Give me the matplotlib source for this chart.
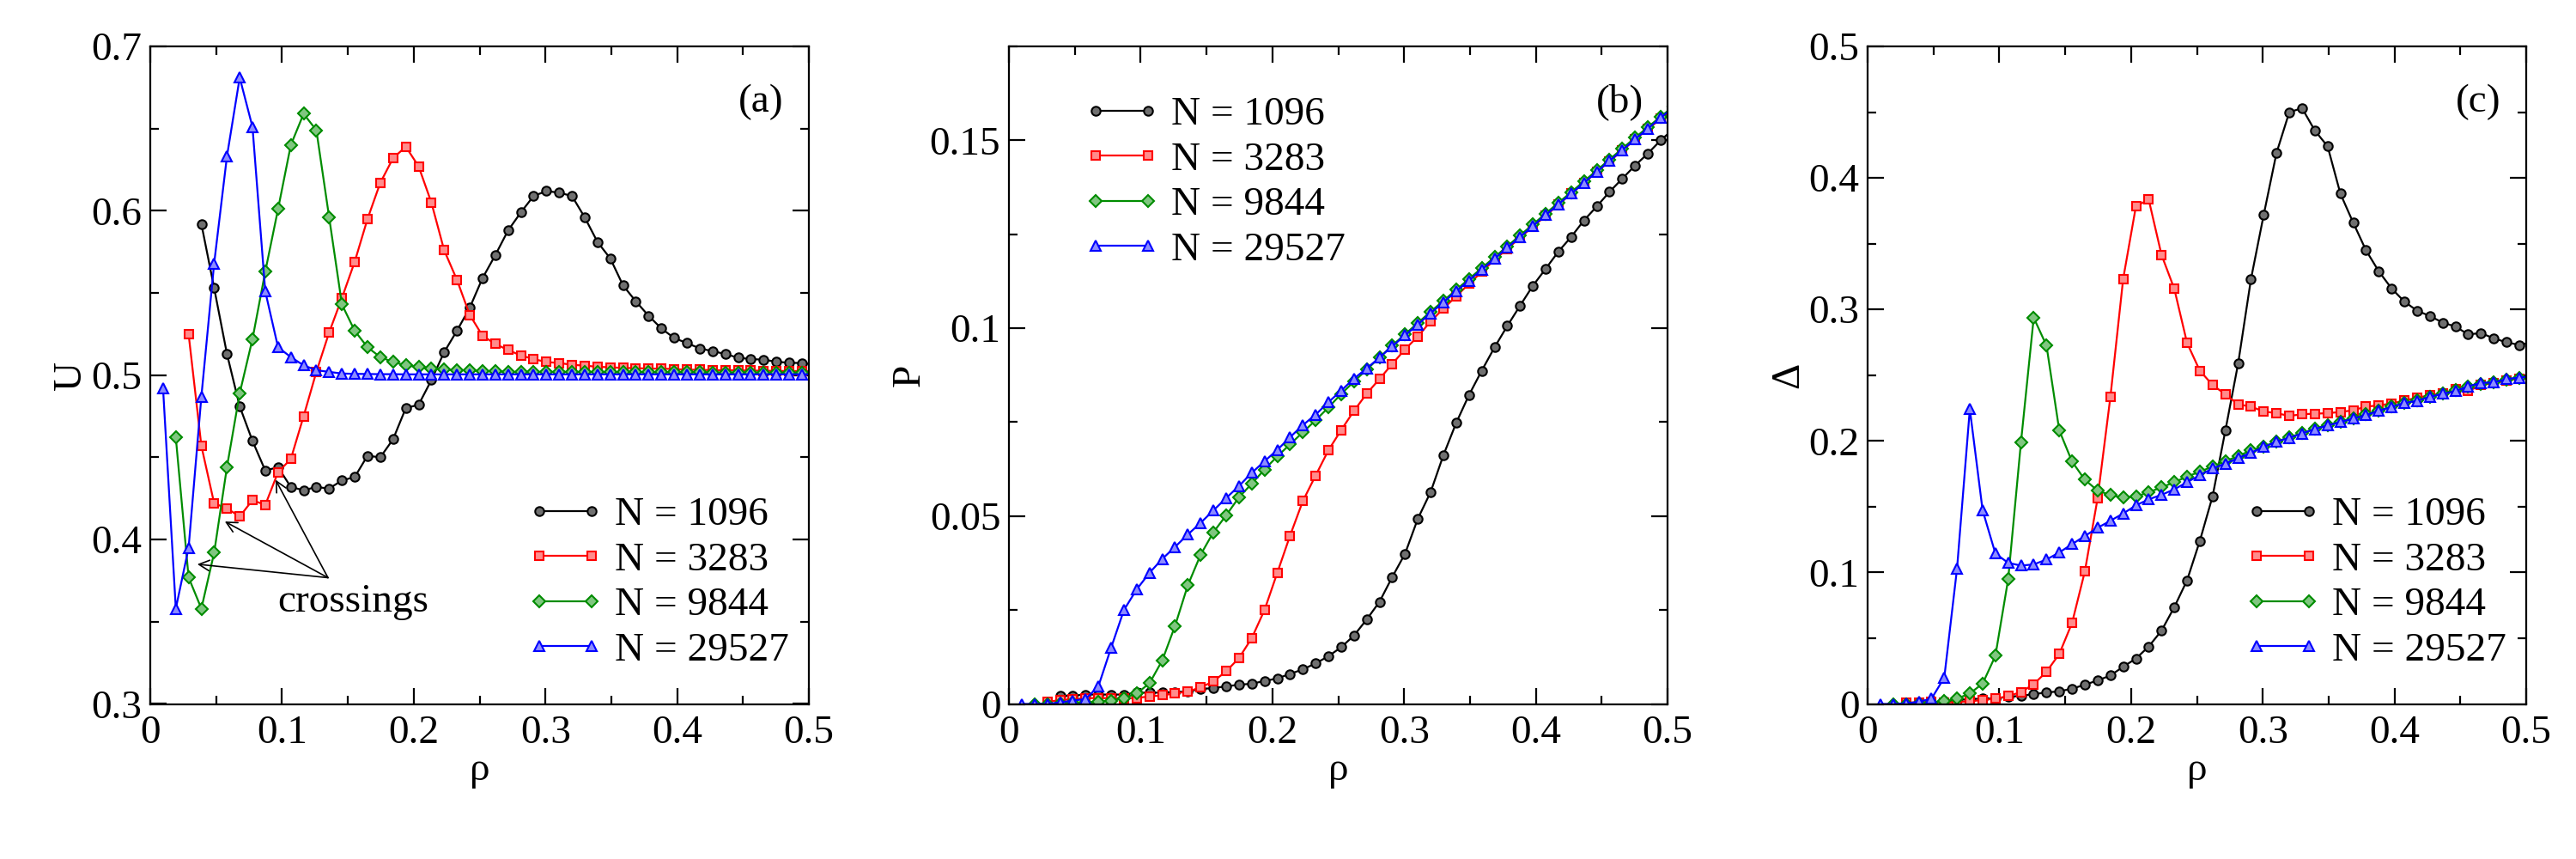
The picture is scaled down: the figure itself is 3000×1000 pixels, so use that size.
import matplotlib
matplotlib.use("Agg")
import matplotlib.pyplot as plt
from matplotlib.ticker import MultipleLocator, FuncFormatter

# ---------------- data ----------------
RHO_STEP = 0.0097
rho_grid = [round(k * RHO_STEP, 4) for k in range(1, 53)]   # k = 1..52

sizes = ["1096", "3283", "9844", "29527"]
first_k = {"1096": 4, "3283": 3, "9844": 2, "29527": 1}

# Panel (a): cumulant U
U_1096 = [0.592, 0.553, 0.513, 0.481, 0.460, 0.442, 0.444, 0.432, 0.430, 0.432,
          0.431, 0.436, 0.438, 0.451, 0.450, 0.461, 0.480, 0.482, 0.497, 0.514,
          0.527, 0.541, 0.559, 0.573, 0.588, 0.599, 0.609, 0.612, 0.611, 0.609,
          0.596, 0.581, 0.571, 0.5546, 0.5449, 0.5361, 0.5284, 0.5226, 0.5195, 0.5163,
          0.5146, 0.5129, 0.5106, 0.5098, 0.5094, 0.5082, 0.5075, 0.5074, 0.5065]
U_3283 = [0.525, 0.457, 0.422, 0.419, 0.414, 0.424, 0.421, 0.441, 0.449, 0.475,
          0.502, 0.526, 0.547, 0.569, 0.595, 0.617, 0.632, 0.639, 0.627, 0.605,
          0.576, 0.558, 0.5367, 0.524, 0.519, 0.5153, 0.512, 0.5098, 0.508, 0.5074,
          0.5063, 0.5058, 0.5051, 0.5048, 0.5044, 0.5043, 0.504, 0.504, 0.5037, 0.5033,
          0.5033, 0.503, 0.503, 0.503, 0.5028, 0.5027, 0.5026, 0.5025, 0.5025, 0.5025]
U_9844 = [0.462, 0.377, 0.358, 0.392, 0.444, 0.489, 0.522, 0.563, 0.601, 0.640,
          0.659, 0.649, 0.596, 0.543, 0.527, 0.517, 0.511, 0.508, 0.506, 0.505,
          0.504, 0.5035, 0.503, 0.503, 0.5025, 0.5025, 0.502, 0.502, 0.502, 0.502,
          0.502, 0.502, 0.502, 0.502, 0.5018, 0.5018, 0.5018, 0.5018, 0.5017, 0.5017,
          0.5017, 0.5017, 0.5016, 0.5016, 0.5016, 0.5016, 0.5015, 0.5015, 0.5015, 0.5015,
          0.5015]
U_29527 = [0.492, 0.358, 0.395, 0.487, 0.568, 0.633, 0.681, 0.651, 0.551, 0.517,
           0.511, 0.506, 0.503, 0.502, 0.501, 0.5008, 0.5007, 0.5006, 0.5006, 0.5005,
           0.5005, 0.5005, 0.5005, 0.5005, 0.5005, 0.5005, 0.5005, 0.5005, 0.5005, 0.5005,
           0.5005, 0.5005, 0.5005, 0.5005, 0.5005, 0.5005, 0.5005, 0.5005, 0.5005, 0.5005,
           0.5005, 0.5005, 0.5005, 0.5005, 0.5005, 0.5005, 0.5005, 0.5005, 0.5005, 0.5005,
           0.5005, 0.5005]

# Panel (b): order parameter P
P_1096 = [0.0022, 0.0022, 0.0025, 0.0025, 0.0025, 0.0025, 0.0030, 0.0030, 0.0030, 0.0032,
          0.0033, 0.0040, 0.0042, 0.0047, 0.0051, 0.0054, 0.0061, 0.0068, 0.0080, 0.0092,
          0.0108, 0.0127, 0.0151, 0.0182, 0.0225, 0.0272, 0.0338, 0.0400, 0.0493, 0.0564,
          0.0662, 0.0748, 0.0822, 0.0887, 0.0949, 0.1006, 0.1060, 0.1113, 0.1158, 0.1204,
          0.1243, 0.1287, 0.1324, 0.1363, 0.1398, 0.1433, 0.1465, 0.1500, 0.1530]
P_3283 = [0.0006, 0.0010, 0.0013, 0.0015, 0.0016, 0.0015, 0.0015, 0.0016, 0.0020, 0.0023,
          0.0028, 0.0033, 0.0044, 0.0060, 0.0087, 0.0122, 0.0175, 0.0250, 0.0349, 0.0448,
          0.0540, 0.0608, 0.0675, 0.0729, 0.0780, 0.0826, 0.0865, 0.0905, 0.0944, 0.0978,
          0.1018, 0.1052, 0.1085, 0.1118, 0.1150, 0.1182, 0.1211, 0.1241, 0.1270, 0.1299,
          0.1329, 0.1358, 0.1387, 0.1416, 0.1444, 0.1473, 0.1502, 0.1530, 0.1557, 0.1585]
P_9844 = [0.0000, 0.0000, 0.0001, 0.0003, 0.0004, 0.0006, 0.0009, 0.0015, 0.0028, 0.0055,
          0.0116, 0.0208, 0.0316, 0.0397, 0.0457, 0.0502, 0.0550, 0.0586, 0.0624, 0.0659,
          0.0691, 0.0723, 0.0755, 0.0789, 0.0825, 0.0858, 0.0890, 0.0922, 0.0954, 0.0984,
          0.1014, 0.1044, 0.1073, 0.1102, 0.1131, 0.1160, 0.1189, 0.1218, 0.1247, 0.1276,
          0.1305, 0.1334, 0.1362, 0.1391, 0.1420, 0.1449, 0.1478, 0.1507, 0.1535, 0.1563,
          0.1590]
P_29527 = [0.0000, 0.0000, 0.0000, 0.0004, 0.0009, 0.0013, 0.0047, 0.0150, 0.0250, 0.0305,
           0.0349, 0.0386, 0.0418, 0.0451, 0.0482, 0.0515, 0.0548, 0.0580, 0.0615, 0.0646,
           0.0676, 0.0710, 0.0742, 0.0770, 0.0803, 0.0834, 0.0866, 0.0893, 0.0922, 0.0952,
           0.0981, 0.1010, 0.1040, 0.1069, 0.1098, 0.1127, 0.1156, 0.1185, 0.1214, 0.1243,
           0.1272, 0.1301, 0.1330, 0.1358, 0.1387, 0.1416, 0.1445, 0.1474, 0.1503, 0.1531,
           0.1560, 0.1588]

# Panel (c): fluctuation Delta
D_1096 = [0.0010, 0.0012, 0.0020, 0.0029, 0.0037, 0.0040, 0.0042, 0.0054, 0.0062, 0.0075,
          0.0087, 0.0096, 0.0116, 0.0146, 0.0179, 0.0216, 0.0283, 0.0345, 0.0437, 0.0557,
          0.0736, 0.0940, 0.1240, 0.1580, 0.2080, 0.2590, 0.3230, 0.3720, 0.4190, 0.4500,
          0.4530, 0.4360, 0.4240, 0.3880, 0.3660, 0.3450, 0.3290, 0.3160, 0.3060, 0.2990,
          0.2950, 0.2900, 0.2870, 0.2810, 0.2820, 0.2780, 0.2750, 0.2730, 0.2750]
D_3283 = [0.0010, 0.0012, 0.0015, 0.0010, 0.0015, 0.0020, 0.0030, 0.0040, 0.0060, 0.0090,
          0.0150, 0.0245, 0.0380, 0.0616, 0.1007, 0.1564, 0.2334, 0.3232, 0.3785, 0.3835,
          0.3415, 0.3157, 0.2745, 0.2534, 0.2425, 0.2354, 0.2278, 0.2261, 0.2224, 0.2211,
          0.2190, 0.2203, 0.2207, 0.2211, 0.2220, 0.2233, 0.2261, 0.2270, 0.2285, 0.2307,
          0.2328, 0.2348, 0.2361, 0.2393, 0.2378, 0.2425, 0.2440, 0.2458, 0.2475, 0.2480]
D_9844 = [0.0000, 0.0000, 0.0004, 0.0010, 0.0020, 0.0040, 0.0080, 0.0154, 0.0366, 0.0948,
          0.1988, 0.2937, 0.2725, 0.2080, 0.1843, 0.1705, 0.1622, 0.1589, 0.1568, 0.1577,
          0.1610, 0.1647, 0.1686, 0.1729, 0.1766, 0.1805, 0.1846, 0.1885, 0.1928, 0.1958,
          0.1995, 0.2028, 0.2060, 0.2093, 0.2122, 0.2148, 0.2175, 0.2203, 0.2232, 0.2260,
          0.2287, 0.2310, 0.2336, 0.2362, 0.2385, 0.2412, 0.2435, 0.2448, 0.2465, 0.2478,
          0.2490]
D_29527 = [0.0000, 0.0000, 0.0004, 0.0017, 0.0040, 0.0200, 0.1030, 0.2242, 0.1473, 0.1144,
           0.1073, 0.1052, 0.1061, 0.1098, 0.1152, 0.1215, 0.1277, 0.1339, 0.1393, 0.1448,
           0.1510, 0.1556, 0.1590, 0.1632, 0.1686, 0.1740, 0.1790, 0.1828, 0.1870, 0.1910,
           0.1953, 0.1995, 0.2023, 0.2057, 0.2090, 0.2118, 0.2143, 0.2170, 0.2196, 0.2229,
           0.2258, 0.2288, 0.2305, 0.2335, 0.2358, 0.2378, 0.2415, 0.2441, 0.2445, 0.2470,
           0.2482, 0.2490]

U_data = {"1096": U_1096, "3283": U_3283, "9844": U_9844, "29527": U_29527}
P_data = {"1096": P_1096, "3283": P_3283, "9844": P_9844, "29527": P_29527}
D_data = {"1096": D_1096, "3283": D_3283, "9844": D_9844, "29527": D_29527}

panel_tags = ["(a)", "(b)", "(c)"]
y_labels = ["U", "P", "Δ"]
crossing_targets = [(0.0951, 0.4364), (0.0566, 0.411), (0.0357, 0.385)]

# ---------------- style ----------------
plt.rcParams['font.family'] = ['Liberation Serif', 'DejaVu Serif']

styles = {
    "1096":  dict(color="#000000", marker="o", mfc="#707070", ms=7.5),
    "3283":  dict(color="#ff0000", marker="s", mfc="#ff8c8c", ms=7.0),
    "9844":  dict(color="#008c00", marker="D", mfc="#80c680", ms=6.8),
    "29527": dict(color="#0000ff", marker="^", mfc="#8c8cff", ms=8.0),
}

FS = 34
fig = plt.figure(figsize=(30, 10), dpi=100)
lefts = [0.05833, 0.39167, 0.72500]
axes = [fig.add_axes([l, 0.1805, 0.2557, 0.7655]) for l in lefts]

def gfmt(v, pos):
    s = ("%.3f" % v).rstrip("0").rstrip(".")
    return "0" if s in ("", "-0") else s

def draw(ax, data):
    for n in sizes:
        st = styles[n]
        k0 = first_k[n]
        y = data[n]
        x = rho_grid[k0 - 1:k0 - 1 + len(y)]
        ax.plot(x, y, color=st["color"], lw=1.6, marker=st["marker"],
                ms=st["ms"], mfc=st["mfc"], mec=st["color"], mew=1.5,
                label="N = " + n)

def style_axes(ax, ylim, ymaj, ymin, ylabel):
    ax.set_xlim(0, 0.5)
    ax.set_ylim(*ylim)
    ax.xaxis.set_major_locator(MultipleLocator(0.1))
    ax.xaxis.set_minor_locator(MultipleLocator(0.05))
    ax.yaxis.set_major_locator(MultipleLocator(ymaj))
    ax.yaxis.set_minor_locator(MultipleLocator(ymin))
    ax.xaxis.set_major_formatter(FuncFormatter(gfmt))
    ax.yaxis.set_major_formatter(FuncFormatter(gfmt))
    ax.tick_params(which="both", direction="in", top=True, right=True,
                   width=1.6, labelsize=FS)
    ax.tick_params(which="major", length=14)
    ax.tick_params(which="minor", length=7)
    ax.tick_params(axis="x", pad=9.5)
    ax.tick_params(axis="y", pad=7)
    for sp in ax.spines.values():
        sp.set_linewidth(1.6)
    ax.set_xlabel("ρ", fontsize=FS, labelpad=0)
    ax.set_ylabel(ylabel, fontsize=FS, labelpad=1.5)

leg_kw = dict(frameon=False, fontsize=FS, handlelength=1.9, handletextpad=0.26,
              labelspacing=0.2, numpoints=2, borderpad=0, borderaxespad=0)

# (a)
ax = axes[0]
draw(ax, U_data)
style_axes(ax, (0.3, 0.7), 0.1, 0.05, y_labels[0])
ax.legend(loc="lower left", bbox_to_anchor=(0.572, 0.053), **leg_kw)
ax.text(0.154, 0.362, "crossings", fontsize=FS, ha="center", va="center")
for tx, ty in crossing_targets:
    ax.annotate("", xy=(tx, ty), xytext=(0.1349, 0.3768),
                arrowprops=dict(arrowstyle="->", color="black", lw=1.2,
                                mutation_scale=22, shrinkA=0, shrinkB=0))

# (b)
ax = axes[1]
draw(ax, P_data)
style_axes(ax, (0, 0.175), 0.05, 0.025, y_labels[1])
ax.legend(loc="upper left", bbox_to_anchor=(0.113, 0.924), **leg_kw)

# (c)
ax = axes[2]
draw(ax, D_data)
style_axes(ax, (0, 0.5), 0.1, 0.05, y_labels[2])
ax.legend(loc="lower left", bbox_to_anchor=(0.572, 0.053), **leg_kw)

for ax, tag in zip(axes, panel_tags):
    ax.text(0.927, 0.915, tag, transform=ax.transAxes, fontsize=FS,
            ha="center", va="center")

fig.savefig("out.png", dpi=100)
